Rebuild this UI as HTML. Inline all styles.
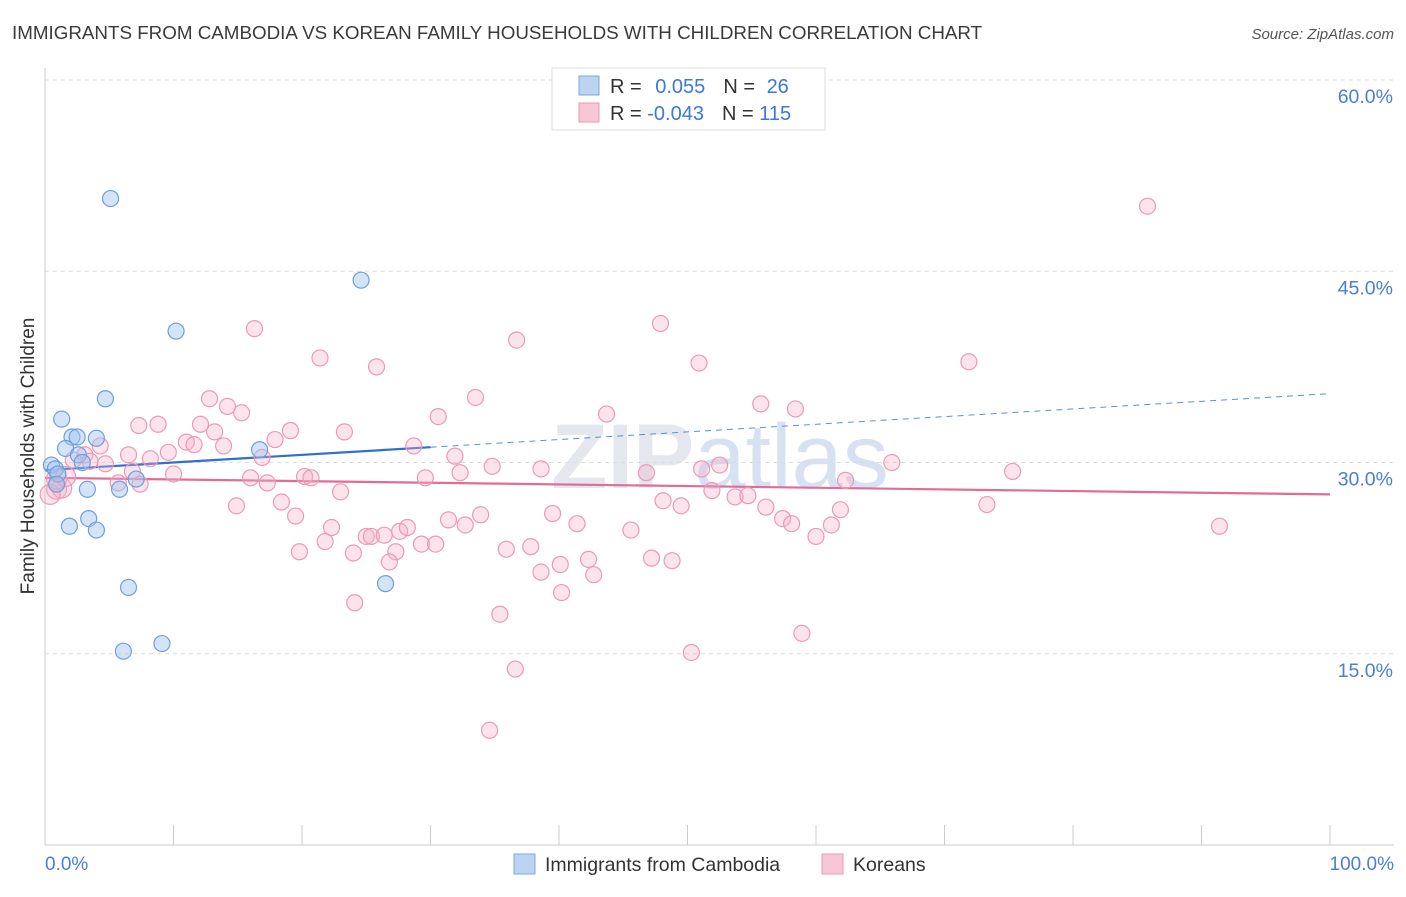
<!DOCTYPE html>
<html><head><meta charset="utf-8"><style>
body{margin:0;background:#fff;font-family:"Liberation Sans",sans-serif;}
svg text{font-family:"Liberation Sans",sans-serif;}
</style></head><body>
<svg id="chart" width="1406" height="892" viewBox="0 0 1406 892">
<text x="12" y="39" font-size="18.8" fill="#3a3a3a">IMMIGRANTS FROM CAMBODIA VS KOREAN FAMILY HOUSEHOLDS WITH CHILDREN CORRELATION CHART</text>
<text x="1394" y="39" font-size="15" fill="#555" text-anchor="end" font-style="italic">Source: ZipAtlas.com</text>
<text x="720" y="488" font-size="92" fill="#e4e8ee" text-anchor="middle" font-weight="bold">ZIP<tspan font-weight="normal" fill="#d6e2f2">atlas</tspan></text>
<g id="grid"></g>
<g id="axes"></g>
<g id="lines"></g>
<g id="points"></g>
<text x="34" y="456" font-size="19" fill="#333" text-anchor="middle" transform="rotate(-90 34 456)">Family Households with Children</text>
<text x="45" y="870" font-size="19" fill="#4a7fd4">0.0%</text>
<text x="1394" y="870" font-size="19" fill="#4a7fd4" text-anchor="end">100.0%</text>
<g>
<rect x="552" y="68" width="273" height="62" fill="#fff" stroke="#ddd"/>
<rect x="579" y="76" width="20" height="19" fill="#bcd3f2" stroke="#7aa8e0"/>
<rect x="579" y="103" width="20" height="19" fill="#f9c6d6" stroke="#ec9ab5"/>
<text x="610" y="93" font-size="20" fill="#333">R = <tspan fill="#3b78d8" dx="8">0.055</tspan><tspan dx="18">N = </tspan><tspan fill="#3b78d8" dx="6">26</tspan></text>
<text x="610" y="120" font-size="20" fill="#333">R = <tspan fill="#3b78d8">-0.043</tspan><tspan dx="18">N = </tspan><tspan fill="#3b78d8">115</tspan></text>
</g>
<g>
<rect x="514" y="854" width="21" height="20" fill="#bcd3f2" stroke="#7aa8e0"/>
<text x="545" y="871" font-size="19.5" fill="#333">Immigrants from Cambodia</text>
<rect x="822" y="854" width="21" height="20" fill="#f9c6d6" stroke="#ec9ab5"/>
<text x="853" y="871" font-size="19.5" fill="#333">Koreans</text>
</g>
</svg>
<script>
const yTicks=[15,30,45,60];
const yTickLabels=["15.0%","30.0%","45.0%","60.0%"];
const xTicks=[0,10,20,30,40,50,60,70,80,90,100];
const blueX=[5.1,24.6,10.2,4.7,1.3,2.1,2.5,4.0,16.7,1.6,2.6,2.9,0.5,0.8,1.0,0.9,3.3,5.8,7.1,3.4,1.9,4.0,6.5,26.5,6.1,9.1];
const blueY=[50.7,44.3,40.3,35.0,33.4,32.0,32.0,31.9,31.0,31.1,30.6,30.0,29.8,29.5,29.1,28.3,27.9,27.9,28.7,25.6,25.0,24.7,20.2,20.5,15.2,15.8];
const pinkX=[85.8,47.9,16.3,36.7,71.9,21.4,25.8,50.9,33.5,12.8,14.2,15.3,30.6,43.7,55.7,58.4,7.3,8.8,12.1,19.1,23.3,17.9,13.2,11.0,11.6,9.6,6.5,8.2,4.3,3.1,2.2,13.9,16.9,28.7,31.9,34.8,38.6,46.8,51.1,52.5,65.9,75.3,62.3,4.7,6.8,10.0,16.0,17.3,20.2,20.7,29.6,32.3,23.0,51.9,53.7,54.7,48.1,49.5,14.9,18.4,19.5,31.4,33.9,39.5,41.4,32.7,56.1,57.4,58.1,61.2,61.9,73.3,91.4,22.3,21.8,25.0,25.4,26.4,27.6,28.2,45.6,19.8,24.0,27.3,29.3,30.4,35.9,37.8,40.1,42.3,47.2,48.8,60.0,26.8,38.6,42.7,40.2,24.1,35.4,58.9,50.3,36.6,34.6,0.9,1.3,0.4,0.9,1.6,3.5,5.7,7.4];
const pinkY=[50.1,40.9,40.5,39.6,37.9,38.2,37.5,37.8,35.1,35.0,34.4,33.9,33.6,33.8,34.6,34.2,32.9,33.0,33.0,32.5,32.4,31.8,32.4,31.6,31.4,30.8,30.6,30.3,31.3,30.6,30.2,31.3,30.4,31.3,30.5,29.7,29.5,29.2,29.5,29.8,30.0,29.3,28.6,29.9,29.3,29.1,28.8,28.4,28.9,28.8,28.8,29.2,27.7,27.8,27.3,27.4,27.0,26.6,26.6,26.9,25.8,25.5,25.9,26.0,25.2,25.1,26.5,25.6,25.2,25.1,26.3,26.7,25.0,24.9,23.8,24.2,24.2,24.3,24.6,24.9,24.7,23.0,22.9,23.0,23.6,23.6,23.2,23.4,22.0,22.4,22.5,22.3,24.2,22.2,21.4,21.2,19.8,19.0,18.1,16.6,15.1,13.8,9.0,27.9,28.0,27.5,28.7,28.9,30.1,28.4,28.3];
const blueTrend=[29.4,35.4];
const pinkTrend=[28.8,27.5];
const blueSolidEnd=30;

const NS="http://www.w3.org/2000/svg";
const X0=45,X1=1330,YB=845,YT=80;
function sx(v){return X0+(X1-X0)*v/100;}
function sy(v){return YB-(YB-YT)*v/60;}
function mk(tag,attrs,parent){const e=document.createElementNS(NS,tag);for(const k in attrs)e.setAttribute(k,attrs[k]);parent.appendChild(e);return e;}
const grid=document.getElementById('grid'),axes=document.getElementById('axes'),lines=document.getElementById('lines'),pts=document.getElementById('points');
yTicks.forEach((t,i)=>{
  const l=mk('line',{x1:X0,x2:1394,y1:sy(t),y2:sy(t),stroke:'#dcdcdc','stroke-dasharray':'4,4'},grid);
  
  
  const tx=mk('text',{x:1393,y:sy(t)+23,'font-size':19.5,fill:'#4a7fd4','text-anchor':'end'},grid);
  tx.textContent=yTickLabels[i];
  
  
});
const ya=mk('line',{x1:X0,x2:X0,y1:68,y2:YB,stroke:'#ccc'},axes);


const xa=mk('line',{x1:X0,x2:1394,y1:YB,y2:YB,stroke:'#ccc'},axes);


xTicks.forEach(t=>{
  const l=mk('line',{x1:sx(t),x2:sx(t),y1:YB,y2:YB-20,stroke:'#ccc'},axes);
  
  
});
function tline(tr,a,b,col,dash,name){
  const ya=tr[0]+(tr[1]-tr[0])*a/100, yb=tr[0]+(tr[1]-tr[0])*b/100;
  const l=mk('line',{x1:sx(a),x2:sx(b),y1:sy(ya),y2:sy(yb),stroke:col,'stroke-width':dash?1:2.2},lines);
  if(dash)l.setAttribute('stroke-dasharray','6,5');
  
  
}
pinkX.forEach((x,i)=>{
  const c=mk('circle',{cx:sx(x),cy:sy(pinkY[i]),r:x<2?10:8,fill:'rgba(246,176,200,0.35)',stroke:'#eb9ab6','stroke-width':1.2},pts);
  
  
});
blueX.forEach((x,i)=>{
  const c=mk('circle',{cx:sx(x),cy:sy(blueY[i]),r:8,fill:'rgba(160,195,240,0.45)',stroke:'#6f9fdc','stroke-width':1.2},pts);
  
  
});
tline(pinkTrend,0,100,'#e26b98',false,'korean-trend-line');
tline(blueTrend,0,blueSolidEnd,'#2f6fd0',false,'cambodia-trend-line');
tline(blueTrend,blueSolidEnd,100,'#5b8fd8',true,'cambodia-trend-extension');
</script>
</body></html>
